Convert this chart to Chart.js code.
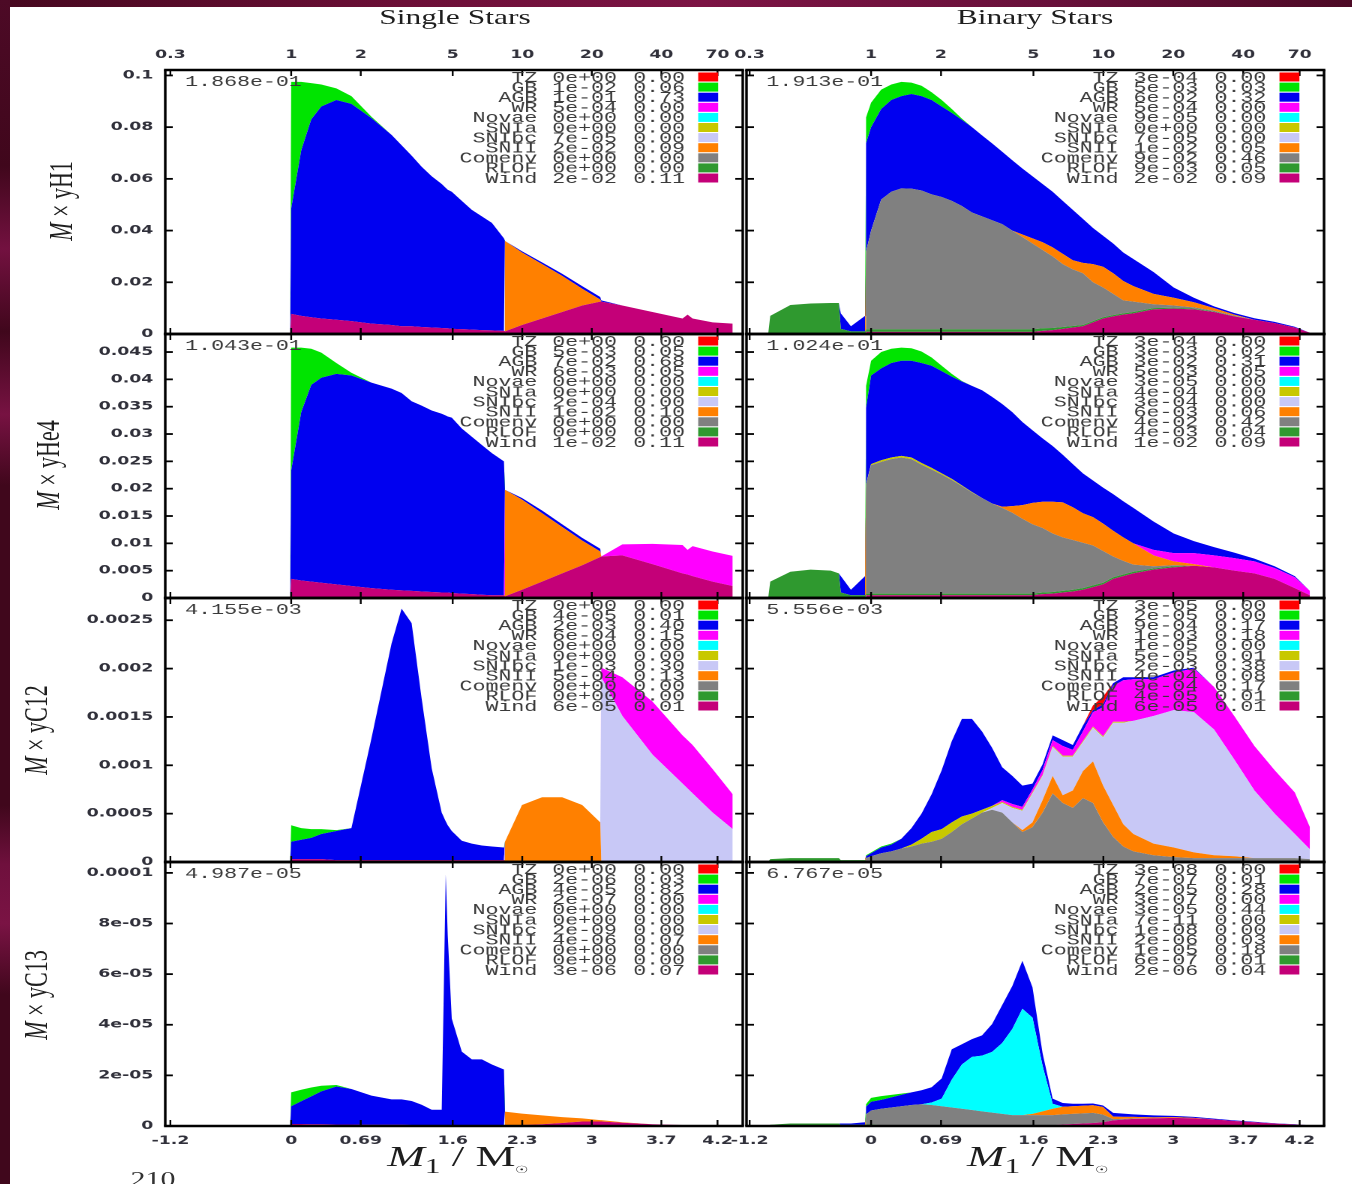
<!DOCTYPE html>
<html>
<head>
<meta charset="utf-8">
<title>Yields by channel: single and binary stars</title>
<script src="https://cdn.jsdelivr.net/npm/chart.js@4.4.1/dist/chart.umd.min.js"></script>
<style>
  html, body { margin:0; padding:0; }
  body { width:1352px; height:1184px; overflow:hidden; position:relative;
         background: linear-gradient(90deg,#46081f 0%,#6c0f37 30%,#7c1444 52%,#68103a 78%,#4d0a26 100%); }
  #edge { position:absolute; left:0; top:0; width:10px; height:1184px;
          background: linear-gradient(180deg,#4d0a26 0%,#40071c 14%,#731140 21%,#40071c 28%,#771242 35%,#40071c 41%,#40071c 68%,#6f103d 73%,#7a1344 78%,#40071c 84%,#40071c 100%); }
  #sheet { position:absolute; left:10px; top:7px; width:1342px; height:1177px; background:#fff; }
  #fig { position:absolute; left:10px; top:0; width:895px; height:1184px; transform:scaleX(1.5); transform-origin:0 0; }
  #fig canvas { position:absolute; }
  .t { position:absolute; white-space:nowrap; color:#1e1e1e; font-family:'Liberation Serif','Times New Roman',serif; line-height:1.15; }
  .col { font-size:21px; transform:translateX(-50%); }
  .ylab { font-size:22px; transform:translate(-50%,-50%) rotate(-90deg); }
  .xlab { font-size:30px; transform:translateX(-50%); }
  .xlab sub.n { font-size:21px; }
  .xlab sub.sun { font-size:10px; }
  .pg { font-size:20px; transform:translateX(-50%); color:#333; }
</style>
</head>
<body>
<div id="edge"></div>
<div id="sheet"></div>
<div id="fig">
  <div class="t col" style="left:296.7px;top:5px">Single Stars</div>
  <div class="t col" style="left:683.3px;top:5px">Binary Stars</div>
  <div class="t ylab" style="left:34px;top:201px"><i>M</i> × yH1</div>
  <div class="t ylab" style="left:25.3px;top:465px"><i>M</i> × yHe4</div>
  <div class="t ylab" style="left:17.3px;top:730px"><i>M</i> × yC12</div>
  <div class="t ylab" style="left:17.3px;top:995px"><i>M</i> × yC13</div>
  <div class="t xlab" style="left:298.7px;top:1139px"><i>M</i><sub class="n">1</sub> / M<sub class="sun">☉</sub></div>
  <div class="t xlab" style="left:685.3px;top:1139px"><i>M</i><sub class="n">1</sub> / M<sub class="sun">☉</sub></div>
  <div class="t pg" style="left:95.3px;top:1168px">210</div>
</div>
<script>
// ---------------------------------------------------------------------------
// Channels, stacked from the top of the legend down to the bottom of the plot
// ---------------------------------------------------------------------------
const SERIES = ['TZ','GB','AGB','WR','Novae','SNIa','SNIbc','SNII','Comenv','RLOF','Wind'];
const COLORS = { TZ:'#ff0000', GB:'#00e400', AGB:'#0000f0', WR:'#ff00ff', Novae:'#00ffff',
                 SNIa:'#c8c800', SNIbc:'#c8c8f6', SNII:'#ff8000', Comenv:'#808080',
                 RLOF:'#2f992f', Wind:'#c40078' };

// Axis ticks: primary mass (top) and ln of primary mass (bottom)
const MASS_TICKS = [0.3, 1, 2, 5, 10, 20, 40, 70];
const TOP_LABELS = ['0.3','1','2','5','10','20','40','70'];
const BOTTOM_LABELS = ['-1.2','0','0.69','1.6','2.3','3','3.7','4.2'];
const LN_TICKS = MASS_TICKS.map(Math.log);

const Y_MAX = [0.1021, 0.0483, 0.00273, 1.043e-4];
const Y_TICKS = [
  [0, 0.02, 0.04, 0.06, 0.08, 0.1],
  [0, 0.005, 0.01, 0.015, 0.02, 0.025, 0.03, 0.035, 0.04, 0.045],
  [0, 0.0005, 0.001, 0.0015, 0.002, 0.0025],
  [0, 2e-5, 4e-5, 6e-5, 8e-5, 1e-4]
];
const Y_LABELS = [
  ['0','0.02','0.04','0.06','0.08','0.1'],
  ['0','0.005','0.01','0.015','0.02','0.025','0.03','0.035','0.04','0.045'],
  ['0','0.0005','0.001','0.0015','0.002','0.0025'],
  ['0','2e-05','4e-05','6e-05','8e-05','0.0001']
];

// ---------------------------------------------------------------------------
// Single stars: ln(M1) grid and yields per channel
// ---------------------------------------------------------------------------
const XS = [-1.25,-0.01,
  0,0.1,0.2,0.3,0.45,0.6,0.8,1.0,1.1,1.2,1.3,
  1.4,1.5,1.54,1.56,1.6,1.7,1.8,1.9,2.0,2.12,
  2.13,2.3,2.5,2.7,2.9,3.08,3.09,
  3.3,3.6,3.9,3.95,4.0,4.2,4.4];

// H1
const S1_WIND = [0,0,
  0.0078,0.007,0.0065,0.006,0.0055,0.005,0.004,0.0035,0.003,0.003,0.0027,
  0.0025,0.0023,0.0022,0.0022,0.002,0.0019,0.0017,0.0015,0.0014,0.0012,
  0.001,0.0035,0.006,0.0085,0.011,0.0125,0.0125,
  0.011,0.0085,0.006,0.0075,0.006,0.0045,0.004];
const S1_SNII = [0,0,
  0,0,0,0,0,0,0,0,0,0,0,
  0,0,0,0,0,0,0,0,0,0,
  0.035,0.028,0.021,0.014,0.0065,0.0008,0,
  0,0,0,0,0,0,0];
const S1_AGB = [0,0,
  0.0407,0.064,0.0765,0.082,0.085,0.084,0.0795,0.0735,0.07,0.066,0.062,
  0.0585,0.0557,0.0543,0.0536,0.053,0.0496,0.0463,0.044,0.0416,0.0358,
  0,0.0005,0.0007,0.0008,0.001,0.001,0.0005,
  0,0,0,0,0,0,0];
const S1_GB = [0,0,
  0.049,0.0265,0.014,0.0085,0.0045,0.003,0.0005,0,0,0,0,
  0,0,0,0,0,0,0,0,0,0,
  0,0,0,0,0,0,0,
  0,0,0,0,0,0,0];

// He4
const S2_WIND = [0,0,
  0.0035,0.0032,0.003,0.0028,0.0025,0.0022,0.0018,0.0015,0.0014,0.0013,0.0012,
  0.0011,0.001,0.001,0.001,0.0009,0.0008,0.0007,0.0006,0.0005,0.0005,
  0.0003,0.0015,0.003,0.0045,0.006,0.0075,0.0076,
  0.0078,0.0062,0.0045,0.0043,0.004,0.003,0.0022];
const S2_SNII = [0,0,
  0,0,0,0,0,0,0,0,0,0,0,
  0,0,0,0,0,0,0,0,0,0,
  0.0195,0.0165,0.0125,0.0085,0.0045,0.001,0,
  0,0,0,0,0,0,0];
const S2_WR = [0,0,
  0,0,0,0,0,0,0,0,0,0,0,
  0,0,0,0,0,0,0,0,0,0,
  0,0,0,0,0,0,0,
  0.002,0.0037,0.0052,0.0045,0.0055,0.0055,0.0055];
const S2_AGB = [0,0,
  0.0198,0.0308,0.036,0.0375,0.0385,0.0385,0.0376,0.0368,0.0361,0.0347,0.034,
  0.0332,0.0327,0.0324,0.0322,0.0321,0.0302,0.0288,0.0274,0.026,0.0245,
  0,0.0003,0.0005,0.0005,0.0005,0.0005,0,
  0,0,0,0,0,0,0];
const S2_GB = [0,0,
  0.0225,0.0118,0.0066,0.0046,0.002,0.0005,0,0,0,0,0,
  0,0,0,0,0,0,0,0,0,0,
  0,0,0,0,0,0,0,
  0,0,0,0,0,0,0];

// C12
const S3_WIND = [0,0,
  3e-5,3e-5,3e-5,3e-5,2e-5,2e-5,2e-5,2e-5,2e-5,2e-5,2e-5,
  2e-5,2e-5,2e-5,2e-5,2e-5,2e-5,2e-5,2e-5,2e-5,2e-5,
  1e-5,1e-5,1e-5,1e-5,1e-5,1e-5,1e-5,
  1e-5,1e-5,1e-5,1e-5,1e-5,1e-5,1e-5];
const S3_SNII = [0,0,
  0,0,0,0,0,0,0,0,0,0,0,
  0,0,0,0,0,0,0,0,0,0,
  2e-4,5.8e-4,6.6e-4,6.6e-4,5.8e-4,4e-4,0,
  0,0,0,0,0,0,0];
const S3_SNIBC = [0,0,
  0,0,0,0,0,0,0,0,0,0,0,
  0,0,0,0,0,0,0,0,0,0,
  0,0,0,0,0,0,1.9e-3,
  1.5e-3,1.1e-3,8e-4,7.5e-4,7e-4,5e-4,3.3e-4];
const S3_WR = [0,0,
  0,0,0,0,0,0,0,0,0,0,0,
  0,0,0,0,0,0,0,0,0,0,
  0,0,0,0,0,0,1e-4,
  4e-4,5.5e-4,5e-4,5e-4,5e-4,4.5e-4,3.6e-4];
const S3_AGB = [0,0,
  1.8e-4,2e-4,2.2e-4,2.6e-4,3e-4,3.3e-4,1.26e-3,2.24e-3,2.6e-3,2.45e-3,1.67e-3,
  9.5e-4,4.9e-4,4e-4,3.6e-4,3e-4,2e-4,1.7e-4,1.5e-4,1.4e-4,1.3e-4,
  0,0,0,0,0,0,0,
  0,0,0,0,0,0,0];
const S3_GB = [0,0,
  1.7e-4,1.2e-4,9e-5,5e-5,1e-5,0,0,0,0,0,0,
  0,0,0,0,0,0,0,0,0,0,
  0,0,0,0,0,0,0,
  0,0,0,0,0,0,0];

// C13
const S4_WIND = [0,0,
  8e-7,8e-7,7e-7,7e-7,6e-7,6e-7,5e-7,5e-7,5e-7,4e-7,4e-7,
  4e-7,4e-7,4e-7,4e-7,4e-7,4e-7,3e-7,3e-7,3e-7,3e-7,
  2e-7,4e-7,7e-7,1.2e-6,1.8e-6,1.8e-6,1.8e-6,
  1.3e-6,7e-7,4e-7,4e-7,3e-7,2e-7,1e-7];
const S4_SNII = [0,0,
  0,0,0,0,0,0,0,0,0,0,0,
  0,0,0,0,0,0,0,0,0,0,
  5.5e-6,4.5e-6,3.5e-6,2.3e-6,1.2e-6,5e-7,5e-7,
  2e-7,0,0,0,0,0,0];
const S4_AGB = [0,0,
  7e-6,9e-6,1.1e-5,1.3e-5,1.5e-5,1.4e-5,1.15e-5,1e-5,1e-5,9.5e-6,8e-6,
  6e-6,6e-6,9.9e-5,7.5e-5,4.2e-5,2.9e-5,2.6e-5,2.6e-5,2.4e-5,2.2e-5,
  0,0,0,0,0,0,0,
  0,0,0,0,0,0,0];
const S4_GB = [0,0,
  5.5e-6,4.5e-6,3.5e-6,2.2e-6,6e-7,0,0,0,0,0,0,
  0,0,0,0,0,0,0,0,0,0,
  0,0,0,0,0,0,0,
  0,0,0,0,0,0,0];

// ---------------------------------------------------------------------------
// Binary stars: ln(M1) grid and yields per channel
// ---------------------------------------------------------------------------
const XB = [-1.2,-1.02,-1.0,-0.8,-0.6,-0.4,-0.32,-0.3,-0.2,-0.06,
  -0.05,0,0.1,0.2,0.3,0.4,0.5,0.6,0.7,0.8,0.9,
  1.0,1.1,1.2,1.3,1.4,1.5,1.6,1.7,1.8,1.9,
  2.0,2.1,2.2,2.3,2.4,2.5,2.6,2.8,3.0,3.2,
  3.4,3.6,3.8,4.0,4.2,4.35];

// H1
const B1_WIND = [0,0,0,0,0,0,0,0,0,0,
  8e-4,8e-4,8e-4,8e-4,8e-4,8e-4,8e-4,8e-4,8e-4,8e-4,8e-4,
  8e-4,8e-4,8e-4,8e-4,8e-4,8e-4,8e-4,1.2e-3,1.5e-3,2e-3,
  2.5e-3,3e-3,4.5e-3,6e-3,6.8e-3,7.5e-3,8e-3,9.5e-3,9.8e-3,9.5e-3,
  8.5e-3,6.8e-3,5.5e-3,4.2e-3,2.5e-3,5e-4];
const B1_RLOF = [0,0,7e-3,1.12e-2,1.18e-2,1.2e-2,1.2e-2,2e-3,1e-3,1e-3,
  1e-3,1e-3,1e-3,1e-3,1e-3,1e-3,1e-3,1e-3,1e-3,1e-3,1e-3,
  1e-3,1e-3,1e-3,1e-3,1e-3,1e-3,1e-3,1e-3,8e-4,7e-4,
  6e-4,5e-4,5e-4,5e-4,5e-4,5e-4,5e-4,5e-4,4e-4,3e-4,
  2e-4,1e-4,0,0,0,0];
const B1_COMENV = [0,0,0,0,0,0,0,0,0,0,
  0.03,0.0382,0.0502,0.0532,0.0545,0.0544,0.0537,0.0522,0.0512,0.0497,0.0477,
  0.0452,0.0437,0.0422,0.0407,0.0382,0.0357,0.0332,0.0303,0.0277,0.0243,
  0.0219,0.02,0.015,0.0115,0.0082,0.005,0.004,0.0015,0.0008,0.0005,
  0.0003,0.0002,0,0,0,0];
const B1_SNII = [0,0,0,0,0,0,0,0,0,0,
  0,0,0,0,0,0,0,0,0,0,0,
  0,0,0,0,0,0.001,0.002,0.003,0.0035,0.004,
  0.0035,0.004,0.007,0.008,0.008,0.0075,0.006,0.004,0.003,0.002,
  0.001,0.0004,0,0,0,0];
const B1_AGB = [0,0,0,0,0,0,0,0.006,0.002,0.006,
  0.042,0.04,0.035,0.0355,0.0357,0.0366,0.0365,0.0365,0.035,0.034,0.0333,
  0.033,0.0313,0.0297,0.028,0.0272,0.0255,0.024,0.0225,0.0215,0.0205,
  0.0195,0.017,0.014,0.012,0.0115,0.011,0.0105,0.0085,0.004,0.0017,
  0.0007,0.0006,0.0006,0.0005,0.0003,0];
const B1_GB = [0,0,0,0,0,0,0,0,0,0,
  0.01,0.0095,0.0075,0.006,0.0055,0.0044,0.004,0.003,0.0025,0.0015,0.0005,
  0,0,0,0,0,0,0,0,0,0,
  0,0,0,0,0,0,0,0,0,0,
  0,0,0,0,0,0];

// He4
const B2_WIND = [0,0,0,0,0,0,0,0,0,0,
  5e-4,5e-4,5e-4,5e-4,5e-4,5e-4,5e-4,5e-4,5e-4,5e-4,5e-4,
  5e-4,5e-4,5e-4,5e-4,5e-4,5e-4,5e-4,7e-4,8e-4,1e-3,
  1.2e-3,1.5e-3,2e-3,2.5e-3,3.5e-3,4e-3,4.5e-3,5.2e-3,5.6e-3,5.9e-3,
  5.6e-3,5e-3,4.5e-3,3.5e-3,1.8e-3,5e-4];
const B2_RLOF = [0,0,3e-3,4.8e-3,5.2e-3,5e-3,4.5e-3,1e-3,5e-4,5e-4,
  3e-4,3e-4,3e-4,3e-4,3e-4,3e-4,3e-4,3e-4,3e-4,3e-4,3e-4,
  3e-4,3e-4,3e-4,3e-4,3e-4,3e-4,3e-4,3e-4,3e-4,3e-4,
  3e-4,3e-4,3e-4,3e-4,3e-4,3e-4,3e-4,2e-4,2e-4,0,
  0,0,0,0,0,0];
const B2_COMENV = [0,0,0,0,0,0,0,0,0,0,
  0.02,0.0235,0.0241,0.0246,0.0249,0.0246,0.0236,0.0227,0.0218,0.0208,0.0197,
  0.0185,0.0175,0.0165,0.0157,0.0148,0.0137,0.0127,0.0118,0.0107,0.0098,
  0.0091,0.0083,0.0073,0.0058,0.0038,0.0025,0.0013,0.0004,0.0002,0,
  0,0,0,0,0,0];
const B2_SNII = [0,0,0,0,0,0,0,0,0,0,
  0,0,0,0,0,0,0,0,0,0,0,
  0,0,0,2e-4,1.2e-3,2.5e-3,3.9e-3,4.8e-3,5.8e-3,6.4e-3,
  6e-3,5.4e-3,5.2e-3,5e-3,4.7e-3,4.3e-3,3.9e-3,2e-3,7e-4,3e-4,
  0,0,0,0,0,0];
const B2_SNIA = [0,0,0,0,0,0,0,0,0,0,
  0,2e-4,3e-4,3e-4,3e-4,3e-4,3e-4,3e-4,2e-4,2e-4,1e-4,
  1e-4,0,0,0,0,0,0,0,0,0,
  0,0,0,0,0,0,0,0,0,0,
  0,0,0,0,0,0];
const B2_WR = [0,0,0,0,0,0,0,0,0,0,
  0,0,0,0,0,0,0,0,0,0,0,
  0,0,0,0,0,0,0,0,0,0,
  0,0,0,0,0,0,0,1e-3,1.5e-3,2e-3,
  2.2e-3,2.3e-3,2.2e-3,2e-3,2e-3,8e-4];
const B2_AGB = [0,0,0,0,0,0,0,3e-3,1e-3,3.5e-3,
  0.014,0.0162,0.0168,0.0173,0.0174,0.0177,0.0183,0.0187,0.0187,0.0187,0.019,
  0.0194,0.0197,0.0195,0.0188,0.0172,0.0152,0.0133,0.0116,0.0102,0.0087,
  0.0079,0.0073,0.0067,0.0066,0.0067,0.0066,0.0065,0.0052,0.0036,0.0022,
  0.0015,0.001,0.0005,0.0003,0.0002,0];
const B2_GB = [0,0,0,0,0,0,0,0,0,0,
  0.004,0.0027,0.003,0.0026,0.0024,0.0023,0.0021,0.0015,0.001,0.0005,0.0001,
  0,0,0,0,0,0,0,0,0,0,
  0,0,0,0,0,0,0,0,0,0,
  0,0,0,0,0,0];

// C12
const B3_WIND = [0,0,0,0,0,0,0,0,0,0,
  1e-5,1e-5,1e-5,1e-5,1e-5,1e-5,1e-5,1e-5,1e-5,1e-5,1e-5,
  1e-5,1e-5,1e-5,1e-5,1e-5,1e-5,1e-5,1e-5,1e-5,1e-5,
  1e-5,1e-5,1e-5,1e-5,1e-5,1e-5,1e-5,1e-5,1e-5,1e-5,
  1e-5,1e-5,1e-5,1e-5,1e-5,1e-5];
const B3_RLOF = [0,0,3e-5,4e-5,4e-5,4e-5,4e-5,2e-5,2e-5,2e-5,
  0,0,0,0,0,0,0,0,0,0,0,
  0,0,0,0,0,0,0,0,0,0,
  0,0,0,0,0,0,0,0,0,0,
  0,0,0,0,0,0];
const B3_COMENV = [0,0,0,0,0,0,0,0,0,0,
  3e-5,5e-5,8e-5,1e-4,1.3e-4,1.5e-4,1.8e-4,2e-4,2.3e-4,3e-4,3.8e-4,
  4.4e-4,5e-4,5.3e-4,5e-4,4e-4,3e-4,3.5e-4,5e-4,7e-4,6e-4,
  5.5e-4,6.5e-4,6e-4,4e-4,2.5e-4,1.5e-4,1e-4,6e-5,4e-5,3e-5,
  3e-5,3e-5,3e-5,3e-5,3e-5,2e-5];
const B3_SNII = [0,0,0,0,0,0,0,0,0,0,
  0,0,0,0,0,0,0,0,0,0,0,
  0,0,0,0,0,2e-5,5e-5,1.3e-4,1.8e-4,8e-5,
  1.8e-4,2.8e-4,4.3e-4,3.8e-4,3.3e-4,2.3e-4,1.8e-4,1.2e-4,1e-4,6e-5,
  3e-5,2e-5,0,0,0,0];
const B3_SNIBC = [0,0,0,0,0,0,0,0,0,0,
  0,0,0,0,0,0,0,0,0,0,0,
  0,0,2e-5,1e-4,1.5e-4,2e-4,3e-4,2.5e-4,3e-4,4e-4,
  3.5e-4,3e-4,3.5e-4,5e-4,8.5e-4,1.05e-3,1.17e-3,1.32e-3,1.42e-3,1.45e-3,
  1.3e-3,1e-3,7e-4,4.6e-4,2.5e-4,1e-4];
const B3_SNIA = [0,0,0,0,0,0,0,0,0,0,
  0,0,0,0,0,2e-5,5e-5,1e-4,1e-4,1e-4,8e-5,
  5e-5,3e-5,2e-5,1e-5,1e-5,1e-5,1e-5,1e-5,1e-5,1e-5,
  1e-5,1e-5,1e-5,1e-5,1e-5,1e-5,0,0,0,0,
  0,0,0,0,0,0];
const B3_WR = [0,0,0,0,0,0,0,0,0,0,
  0,0,0,0,0,0,0,0,0,0,0,
  0,0,0,2e-5,3e-5,3e-5,3e-5,5e-5,6e-5,1e-4,
  6e-5,1e-4,1.5e-4,3e-4,3.7e-4,4.3e-4,4.3e-4,3.8e-4,3.9e-4,4.5e-4,
  4.4e-4,4.5e-4,4.6e-4,4.5e-4,4.3e-4,2.3e-4];
const B3_AGB = [0,0,0,0,0,0,0,0,0,0,
  2e-5,3e-5,6e-5,7e-5,1e-4,1.7e-4,2.6e-4,3.9e-4,6.1e-4,8.4e-4,1.01e-3,
  9.8e-4,8.1e-4,6e-4,3.4e-4,2.9e-4,2.2e-4,6e-5,6e-5,5e-5,6e-5,
  5e-5,6e-5,2e-5,3e-5,3e-5,3e-5,2e-5,2e-5,2e-5,1e-5,
  0,0,0,0,0,0];
const B3_GB = [0,0,0,0,0,0,0,0,0,0,
  1e-5,1e-5,1e-5,1e-5,0,0,0,0,0,0,0,
  0,0,0,0,0,0,0,0,0,0,
  0,0,0,0,0,0,0,0,0,0,
  0,0,0,0,0,0];
const B3_TZ = [0,0,0,0,0,0,0,0,0,0,
  0,0,0,0,0,0,0,0,0,0,0,
  0,0,0,0,0,0,0,0,0,0,
  0,0,5e-5,8e-5,0,0,0,0,0,0,
  0,0,0,0,0,0];

// C13
const B4_WIND = [0,0,0,0,0,0,0,0,0,0,
  3e-7,3e-7,3e-7,3e-7,3e-7,3e-7,3e-7,3e-7,3e-7,3e-7,3e-7,
  3e-7,3e-7,3e-7,3e-7,3e-7,3e-7,3e-7,3e-7,3e-7,6e-7,
  8e-7,1e-6,1.2e-6,1.5e-6,2.2e-6,2.5e-6,2.8e-6,3e-6,3.2e-6,3e-6,
  2.6e-6,2e-6,1.5e-6,1e-6,6e-7,3e-7];
const B4_RLOF = [0,0,5e-7,1e-6,1e-6,1e-6,1e-6,5e-7,5e-7,5e-7,
  3e-7,3e-7,0,0,0,0,0,0,0,0,0,
  0,0,0,0,0,0,0,0,0,0,
  0,0,0,0,0,0,0,0,0,0,
  0,0,0,0,0,0];
const B4_COMENV = [0,0,0,0,0,0,0,0,0,0,
  4e-6,5.5e-6,6.5e-6,7e-6,7.5e-6,8e-6,8.3e-6,8e-6,7.5e-6,7e-6,6.5e-6,
  6e-6,5.5e-6,5e-6,4.5e-6,4e-6,4e-6,4e-6,4e-6,4e-6,4e-6,
  4e-6,4e-6,4e-6,3e-6,5e-7,3e-7,2e-7,0,0,0,
  0,0,0,0,0,0];
const B4_SNII = [0,0,0,0,0,0,0,0,0,0,
  0,0,0,0,0,0,0,0,0,0,0,
  0,0,0,0,0,0,5e-7,1.5e-6,2.5e-6,3e-6,
  3e-6,3e-6,3e-6,3e-6,1e-6,8e-7,6e-7,4e-7,3e-7,2e-7,
  0,0,0,0,0,0];
const B4_NOVAE = [0,0,0,0,0,0,0,0,0,0,
  0,0,0,0,0,0,0,1e-6,3e-6,1.1e-5,1.75e-5,
  2.1e-5,2.2e-5,2.4e-5,2.8e-5,3.4e-5,4.2e-5,3.8e-5,1.8e-5,2e-6,0,
  0,0,0,0,0,0,0,0,0,0,
  0,0,0,0,0,0];
const B4_AGB = [0,0,0,0,0,0,0,5e-7,5e-7,1e-6,
  3e-6,3.5e-6,3.5e-6,4e-6,4.5e-6,5e-6,5.5e-6,6e-6,8e-6,1.2e-5,8e-6,
  7e-6,8e-6,1.1e-5,1.5e-5,1.7e-5,1.9e-5,1.2e-5,5e-6,2e-6,1.5e-6,
  1e-6,8e-7,7e-7,6e-7,1.5e-6,1.3e-6,1e-6,8e-7,5e-7,4e-7,
  3e-7,2e-7,2e-7,1e-7,1e-7,0];
const B4_GB = [0,0,0,0,0,0,0,0,0,0,
  1e-6,1.5e-6,1.5e-6,1e-6,5e-7,0,0,0,0,0,0,
  0,0,0,0,0,0,0,0,0,0,
  0,0,0,0,0,0,0,0,0,0,
  0,0,0,0,0,0];

// ---------------------------------------------------------------------------
// Per-panel totals and channel summaries (yield, fraction), in SERIES order
// ---------------------------------------------------------------------------
const S1_VAL  = ['0e+00','1e-02','1e-01','5e-04','0e+00','0e+00','7e-05','2e-02','0e+00','0e+00','2e-02'];
const S1_FRAC = ['0.00','0.06','0.73','0.00','0.00','0.00','0.00','0.09','0.00','0.00','0.11'];
const B1_VAL  = ['3e-04','5e-03','6e-02','5e-04','9e-05','0e+00','7e-05','1e-02','9e-02','9e-03','2e-02'];
const B1_FRAC = ['0.00','0.03','0.32','0.00','0.00','0.00','0.00','0.05','0.46','0.05','0.09'];
const S2_VAL  = ['0e+00','5e-03','7e-02','6e-03','0e+00','0e+00','2e-04','1e-02','0e+00','0e+00','1e-02'];
const S2_FRAC = ['0.00','0.05','0.68','0.05','0.00','0.00','0.00','0.10','0.00','0.00','0.11'];
const B2_VAL  = ['3e-04','3e-03','3e-02','5e-03','3e-05','4e-04','3e-04','6e-03','4e-02','4e-03','1e-02'];
const B2_FRAC = ['0.00','0.02','0.31','0.05','0.00','0.00','0.00','0.06','0.42','0.04','0.09'];
const S3_VAL  = ['0e+00','4e-05','2e-03','6e-04','0e+00','0e+00','1e-03','5e-04','0e+00','0e+00','6e-05'];
const S3_FRAC = ['0.00','0.01','0.40','0.15','0.00','0.00','0.30','0.13','0.00','0.00','0.01'];
const B3_VAL  = ['3e-05','2e-05','9e-04','1e-03','1e-05','5e-05','2e-03','4e-04','9e-04','4e-05','6e-05'];
const B3_FRAC = ['0.00','0.00','0.17','0.18','0.00','0.01','0.38','0.08','0.17','0.01','0.01'];
const S4_VAL  = ['0e+00','2e-06','4e-05','2e-07','0e+00','0e+00','2e-09','4e-06','0e+00','0e+00','3e-06'];
const S4_FRAC = ['0.00','0.03','0.82','0.00','0.00','0.00','0.00','0.07','0.00','0.00','0.07'];
const B4_VAL  = ['3e-08','7e-07','2e-05','3e-07','3e-05','7e-11','1e-08','2e-06','1e-05','6e-07','2e-06'];
const B4_FRAC = ['0.00','0.01','0.28','0.00','0.44','0.00','0.00','0.03','0.18','0.01','0.04'];

const PANELS = [
  { row:0, col:0, x:XS, total:'1.868e-01', vals:S1_VAL, frac:S1_FRAC,
    series:{ Wind:S1_WIND, SNII:S1_SNII, AGB:S1_AGB, GB:S1_GB } },
  { row:0, col:1, x:XB, total:'1.913e-01', vals:B1_VAL, frac:B1_FRAC,
    series:{ Wind:B1_WIND, RLOF:B1_RLOF, Comenv:B1_COMENV, SNII:B1_SNII, AGB:B1_AGB, GB:B1_GB } },
  { row:1, col:0, x:XS, total:'1.043e-01', vals:S2_VAL, frac:S2_FRAC,
    series:{ Wind:S2_WIND, SNII:S2_SNII, WR:S2_WR, AGB:S2_AGB, GB:S2_GB } },
  { row:1, col:1, x:XB, total:'1.024e-01', vals:B2_VAL, frac:B2_FRAC,
    series:{ Wind:B2_WIND, RLOF:B2_RLOF, Comenv:B2_COMENV, SNII:B2_SNII, SNIa:B2_SNIA, WR:B2_WR, AGB:B2_AGB, GB:B2_GB } },
  { row:2, col:0, x:XS, total:'4.155e-03', vals:S3_VAL, frac:S3_FRAC,
    series:{ Wind:S3_WIND, SNII:S3_SNII, SNIbc:S3_SNIBC, WR:S3_WR, AGB:S3_AGB, GB:S3_GB } },
  { row:2, col:1, x:XB, total:'5.556e-03', vals:B3_VAL, frac:B3_FRAC,
    series:{ Wind:B3_WIND, RLOF:B3_RLOF, Comenv:B3_COMENV, SNII:B3_SNII, SNIbc:B3_SNIBC, SNIa:B3_SNIA, WR:B3_WR, AGB:B3_AGB, GB:B3_GB, TZ:B3_TZ } },
  { row:3, col:0, x:XS, total:'4.987e-05', vals:S4_VAL, frac:S4_FRAC,
    series:{ Wind:S4_WIND, SNII:S4_SNII, AGB:S4_AGB, GB:S4_GB } },
  { row:3, col:1, x:XB, total:'6.767e-05', vals:B4_VAL, frac:B4_FRAC,
    series:{ Wind:B4_WIND, RLOF:B4_RLOF, Comenv:B4_COMENV, SNII:B4_SNII, Novae:B4_NOVAE, AGB:B4_AGB, GB:B4_GB } }
];

// ---------------------------------------------------------------------------
// Layout (figure units; the whole figure is stretched horizontally by SX)
// ---------------------------------------------------------------------------
const SX = 1.5;
const FRAME_L = [103.5, 491], FRAME_W = 385;
const FRAME_T = [70, 334, 598, 862], FRAME_H = 264;
const AXIS_W = [103.5, 20], PAD_R = [11.5, 12], XAXIS_H = 30;
const X_RANGE = [[-1.255, 4.5], [-1.235, 4.49]];
const TICK_FONT = { family:'DejaVu Sans', size:11.5, weight:'bold' };
const TICK_COLOR = '#30303a';
const MONO = '14.4px "Liberation Mono", "DejaVu Sans Mono", monospace';
const MONO_COLOR = '#3a3a3a';

function makeDecor(p) {
  return {
    id: 'panelDecor',
    afterDraw(chart) {
      const { ctx, chartArea: a } = chart;
      const xs = chart.scales.x, ys = chart.scales.y;
      const seg = (x1, y1, x2, y2) => { ctx.beginPath(); ctx.moveTo(x1, y1); ctx.lineTo(x2, y2); ctx.stroke(); };
      ctx.save();
      ctx.strokeStyle = '#000';
      // inward ticks on all four sides
      ctx.lineWidth = 1.8 / SX;
      LN_TICKS.forEach(v => {
        const px = xs.getPixelForValue(v);
        seg(px, a.top, px, a.top + 6);
        seg(px, a.bottom, px, a.bottom - 6);
      });
      ctx.lineWidth = 1.8;
      Y_TICKS[p.row].forEach(v => {
        const py = ys.getPixelForValue(v);
        seg(a.left, py, a.left + 5, py);
        seg(a.right, py, a.right - 5, py);
      });
      // frame
      const fw = 2.6;
      ctx.lineWidth = fw;
      seg(a.left - fw / 2 / SX, a.top, a.right + fw / 2 / SX, a.top);
      seg(a.left - fw / 2 / SX, a.bottom, a.right + fw / 2 / SX, a.bottom);
      ctx.lineWidth = fw / SX;
      seg(a.left, a.top, a.left, a.bottom);
      seg(a.right, a.top, a.right, a.bottom);
      // total yield
      ctx.font = MONO;
      ctx.fillStyle = MONO_COLOR;
      ctx.textBaseline = 'middle';
      ctx.textAlign = 'left';
      ctx.fillText(p.total, a.left + 13.3, a.top + 12);
      // channel summary table
      SERIES.forEach((name, i) => {
        const y = a.top + 7 + i * 10.1;
        ctx.fillStyle = MONO_COLOR;
        ctx.textAlign = 'right';
        ctx.fillText(name, a.left + 248, y + 1);
        ctx.textAlign = 'left';
        ctx.fillText(p.vals[i], a.left + 258, y + 1);
        ctx.fillText(p.frac[i], a.left + 312, y + 1);
        ctx.fillStyle = COLORS[name];
        ctx.fillRect(a.left + 355.3, y - 4.5, 13.3, 9);
      });
      ctx.restore();
    }
  };
}

const fig = document.getElementById('fig');
const STACK_ORDER = SERIES.slice().reverse();

PANELS.forEach(p => {
  const w = AXIS_W[p.col] + FRAME_W + PAD_R[p.col];
  const h = FRAME_H + 2 * XAXIS_H;
  const cv = document.createElement('canvas');
  cv.width = w; cv.height = h;
  cv.style.left = (FRAME_L[p.col] - AXIS_W[p.col]) + 'px';
  cv.style.top = (FRAME_T[p.row] - XAXIS_H) + 'px';
  cv.style.width = w + 'px';
  cv.style.height = h + 'px';
  fig.appendChild(cv);

  const datasets = STACK_ORDER.filter(n => p.series[n]).map((n, k) => ({
    label: n,
    data: p.x.map((x, i) => ({ x: x, y: p.series[n][i] })),
    backgroundColor: COLORS[n],
    borderColor: 'rgba(0,0,0,0)',
    borderWidth: 0,
    pointRadius: 0,
    pointHoverRadius: 0,
    tension: 0,
    fill: k === 0 ? 'origin' : '-1'
  }));

  const xAxis = (position, show, labels) => ({
    type: 'linear', position: position,
    min: X_RANGE[p.col][0], max: X_RANGE[p.col][1],
    grid: { display: false, drawTicks: false }, border: { display: false },
    ticks: { display: show, autoSkip: false, maxRotation: 0, minRotation: 0, padding: 8,
             font: TICK_FONT, color: TICK_COLOR, callback: (v, i) => labels[i] },
    afterBuildTicks: s => { s.ticks = LN_TICKS.map(v => ({ value: v })); },
    afterFit: s => { s.height = XAXIS_H; }
  });

  new Chart(cv, {
    type: 'line',
    data: { datasets: datasets },
    options: {
      responsive: false,
      animation: false,
      devicePixelRatio: 2,
      events: [],
      layout: { padding: { left: 0, right: PAD_R[p.col], top: 0, bottom: 0 } },
      plugins: { legend: { display: false }, tooltip: { enabled: false } },
      scales: {
        x: xAxis('bottom', p.row === 3, BOTTOM_LABELS),
        xt: xAxis('top', p.row === 0, TOP_LABELS),
        y: {
          type: 'linear', position: 'left', stacked: true,
          min: 0, max: Y_MAX[p.row],
          grid: { display: false, drawTicks: false }, border: { display: false },
          ticks: { display: p.col === 0, padding: 8, font: TICK_FONT, color: TICK_COLOR,
                   callback: (v, i) => Y_LABELS[p.row][i] },
          afterBuildTicks: s => { s.ticks = Y_TICKS[p.row].map(v => ({ value: v })); },
          afterFit: s => { s.width = AXIS_W[p.col]; }
        }
      }
    },
    plugins: [makeDecor(p)]
  });
});
</script>
</body>
</html>
